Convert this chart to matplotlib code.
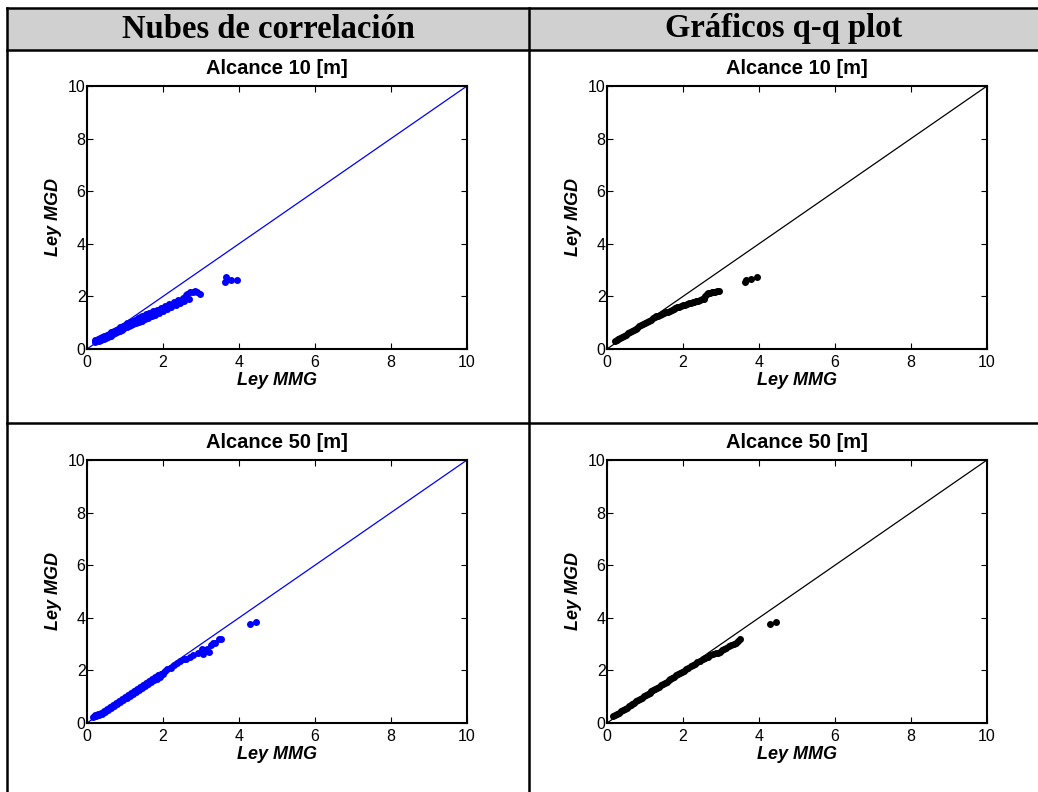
import numpy as np
import matplotlib
matplotlib.use('Agg')
import matplotlib.pyplot as plt
from matplotlib.lines import Line2D
from matplotlib.patches import Rectangle

# ---------------- data: Ley MMG (x) vs Ley MGD (y) ---------------- #
# nube de correlacion, alcance 10 m
cloud10_x = [0.20, 0.22, 0.26, 0.28, 0.32, 0.34, 0.38, 0.40, 0.44, 0.46, 0.50, 0.52, 0.56, 0.58,
             0.62, 0.64, 0.68, 0.70, 0.74, 0.76, 0.80, 0.82, 0.86, 0.88, 0.92, 0.94, 0.98, 1.00,
             1.04, 1.06, 1.10, 1.12, 1.16, 1.20, 1.22, 1.26, 1.30, 1.34, 1.36, 1.40, 1.44, 1.46,
             1.52, 1.56, 1.60, 1.64, 1.70, 1.74, 1.80, 1.84, 1.90, 1.94, 2.00, 2.04, 2.10, 2.16,
             2.22, 2.28, 2.34, 2.40, 2.46, 2.52, 2.56, 2.60, 2.64, 2.69, 2.72, 2.78, 2.84, 2.90,
             2.97, 3.63, 3.67, 3.79, 3.94]
cloud10_y = [0.27, 0.34, 0.29, 0.37, 0.32, 0.41, 0.35, 0.45, 0.39, 0.49, 0.43, 0.54, 0.47, 0.58,
             0.51, 0.63, 0.56, 0.67, 0.60, 0.72, 0.65, 0.77, 0.69, 0.82, 0.74, 0.86, 0.78, 0.92,
             0.83, 0.97, 0.87, 1.02, 0.92, 1.07, 0.95, 1.12, 1.00, 1.17, 1.04, 1.21, 1.08, 1.27,
             1.13, 1.33, 1.18, 1.38, 1.25, 1.44, 1.31, 1.50, 1.37, 1.57, 1.45, 1.63, 1.52, 1.71,
             1.60, 1.78, 1.67, 1.85, 1.75, 1.95, 1.84, 2.04, 2.10, 1.90, 2.15, 2.18, 2.20, 2.17,
             2.09, 2.53, 2.74, 2.61, 2.61]

# cuantiles, alcance 10 m
qq10_x = [0.20, 0.25, 0.30, 0.35, 0.40, 0.45, 0.50, 0.55, 0.60, 0.65, 0.70, 0.75, 0.80, 0.85,
          0.90, 0.95, 1.00, 1.05, 1.10, 1.15, 1.20, 1.25, 1.30, 1.35, 1.40, 1.45, 1.50, 1.55,
          1.60, 1.65, 1.70, 1.75, 1.80, 1.85, 1.90, 1.95, 2.00, 2.05, 2.10, 2.15, 2.20, 2.25,
          2.30, 2.35, 2.40, 2.45, 2.50, 2.55, 2.58, 2.62, 2.66, 2.70, 2.75, 2.80, 2.85, 2.90,
          2.95, 3.63, 3.67, 3.80, 3.94]
qq10_y = [0.30, 0.33, 0.37, 0.42, 0.46, 0.50, 0.55, 0.59, 0.64, 0.68, 0.72, 0.77, 0.81, 0.86,
          0.90, 0.94, 0.99, 1.03, 1.07, 1.12, 1.16, 1.20, 1.24, 1.27, 1.30, 1.33, 1.36, 1.39,
          1.42, 1.45, 1.48, 1.52, 1.55, 1.58, 1.61, 1.64, 1.67, 1.69, 1.72, 1.74, 1.76, 1.78,
          1.80, 1.82, 1.84, 1.86, 1.89, 1.92, 2.02, 2.08, 2.12, 2.14, 2.16, 2.17, 2.18, 2.19,
          2.20, 2.55, 2.63, 2.65, 2.74]

# nube de correlacion, alcance 50 m
cloud50_x = [0.17, 0.20, 0.24, 0.28, 0.32, 0.36, 0.40, 0.44, 0.48, 0.52, 0.56, 0.60, 0.64, 0.68,
             0.72, 0.76, 0.80, 0.84, 0.88, 0.92, 0.96, 1.00, 1.04, 1.08, 1.12, 1.16, 1.20, 1.24,
             1.28, 1.32, 1.36, 1.40, 1.44, 1.48, 1.52, 1.56, 1.60, 1.64, 1.68, 1.72, 1.76, 1.80,
             1.84, 1.88, 1.92, 1.96, 2.00, 2.05, 2.10, 2.20, 2.30, 2.36, 2.45, 2.54, 2.60, 2.70,
             2.78, 2.92, 3.02, 3.04, 3.10, 3.17, 3.20, 3.27, 3.32, 3.37, 3.48, 3.52, 4.29, 4.44]
cloud50_y = [0.22, 0.29, 0.26, 0.33, 0.30, 0.38, 0.36, 0.46, 0.43, 0.53, 0.50, 0.61, 0.58, 0.68,
             0.65, 0.76, 0.73, 0.83, 0.80, 0.91, 0.88, 0.99, 0.96, 1.07, 1.03, 1.14, 1.10, 1.22,
             1.18, 1.30, 1.25, 1.37, 1.33, 1.45, 1.40, 1.52, 1.48, 1.59, 1.55, 1.67, 1.62, 1.74,
             1.69, 1.81, 1.76, 1.87, 1.86, 1.97, 2.07, 2.10, 2.20, 2.30, 2.35, 2.42, 2.45, 2.50,
             2.58, 2.65, 2.80, 2.64, 2.72, 2.83, 2.70, 2.97, 3.03, 3.06, 3.18, 3.20, 3.78, 3.84]

# cuantiles, alcance 50 m
qq50_x = [0.17, 0.22, 0.27, 0.32, 0.37, 0.42, 0.47, 0.52, 0.57, 0.62, 0.67, 0.72, 0.77, 0.82,
          0.87, 0.92, 0.97, 1.02, 1.07, 1.12, 1.17, 1.22, 1.27, 1.32, 1.37, 1.42, 1.47, 1.52,
          1.57, 1.62, 1.67, 1.72, 1.77, 1.82, 1.87, 1.92, 1.97, 2.02, 2.08, 2.14, 2.20, 2.26,
          2.32, 2.38, 2.45, 2.52, 2.58, 2.65, 2.72, 2.78, 2.86, 2.92, 2.97, 3.02, 3.07, 3.14,
          3.20, 3.26, 3.33, 3.40, 3.45, 3.51, 4.29, 4.44]
qq50_y = [0.25, 0.30, 0.34, 0.39, 0.44, 0.49, 0.53, 0.58, 0.63, 0.68, 0.72, 0.77, 0.82, 0.86,
          0.91, 0.96, 1.01, 1.05, 1.10, 1.15, 1.20, 1.24, 1.29, 1.34, 1.38, 1.43, 1.48, 1.53,
          1.57, 1.62, 1.67, 1.71, 1.76, 1.81, 1.86, 1.90, 1.95, 1.99, 2.04, 2.09, 2.15, 2.20,
          2.25, 2.31, 2.37, 2.42, 2.47, 2.52, 2.57, 2.61, 2.66, 2.68, 2.70, 2.76, 2.80, 2.86,
          2.92, 2.95, 2.99, 3.05, 3.12, 3.20, 3.78, 3.84]

ref_line = [0, 10]
ticks = [0, 2, 4, 6, 8, 10]
col_titles = ['Nubes de correlación', 'Gráficos q-q plot']
row_titles = ['Alcance 10 [m]', 'Alcance 50 [m]']

# ---------------- figure layout (pixel based) ---------------- #
W, H = 1038, 792
fig = plt.figure(figsize=(W / 100, H / 100), dpi=100)
fig.patch.set_facecolor('white')


def fx(px):
    return px / W


def fy(py):
    return 1 - py / H


def hline(y, x0, x1, lw=1.8):
    fig.add_artist(Line2D([fx(x0), fx(x1)], [fy(y), fy(y)], color='black', lw=lw))


def vline(x, y0, y1, lw=1.8):
    fig.add_artist(Line2D([fx(x), fx(x)], [fy(y0), fy(y1)], color='black', lw=lw))


# table header and grid
hdr_top, hdr_bot = 8, 50
row_div = 423
col_div = 529
fig.add_artist(Rectangle((fx(7), fy(hdr_bot)), fx(W) - fx(7), fy(hdr_top) - fy(hdr_bot),
                         facecolor='#d0d0d0', edgecolor='none'))
hline(hdr_top, 7, W)
hline(hdr_bot, 7, W)
hline(row_div, 7, W)
vline(7, hdr_top, H)
vline(col_div, hdr_top, H)

fig.text(fx((7 + col_div) / 2), fy(29), col_titles[0], ha='center', va='center',
         family='Liberation Serif', weight='bold', fontsize=23.5)
fig.text(fx((col_div + W) / 2), fy(29), col_titles[1], ha='center', va='center',
         family='Liberation Serif', weight='bold', fontsize=23.5)

# axes boxes: (left, top) in pixels
ax_w, ax_h = 380, 263
corners = [(87, 86), (607, 86), (87, 460), (607, 460)]
panels = [(cloud10_x, cloud10_y, 'blue'), (qq10_x, qq10_y, 'black'),
          (cloud50_x, cloud50_y, 'blue'), (qq50_x, qq50_y, 'black')]

for i, ((left, top), (xs, ys, col)) in enumerate(zip(corners, panels)):
    ax = fig.add_axes([fx(left), fy(top + ax_h), ax_w / W, ax_h / H])
    ax.plot(ref_line, ref_line, color=col, lw=0.9)
    ax.plot(xs, ys, 'o', color=col, ms=4.0, mec=col)
    ax.set_xlim(0, 10)
    ax.set_ylim(0, 10)
    ax.set_xticks(ticks)
    ax.set_yticks(ticks)
    ax.tick_params(direction='in', top=True, right=True, length=4, width=0.8,
                   labelsize=11.5, pad=1)
    ax.tick_params(axis='x', pad=4.5)
    for lab in ax.get_xticklabels() + ax.get_yticklabels():
        lab.set_family('Liberation Sans')
    for s in ax.spines.values():
        s.set_linewidth(1.5)
    ax.set_title(row_titles[i // 2], family='Liberation Sans', weight='bold',
                 fontsize=14.5, pad=9)
    ax.set_xlabel('Ley MMG', family='Liberation Sans', weight='bold', style='italic',
                  fontsize=13, labelpad=1)
    ax.set_ylabel('Ley MGD', family='Liberation Sans', weight='bold', style='italic',
                  fontsize=13, labelpad=4)

fig.savefig('out.png', dpi=100)
